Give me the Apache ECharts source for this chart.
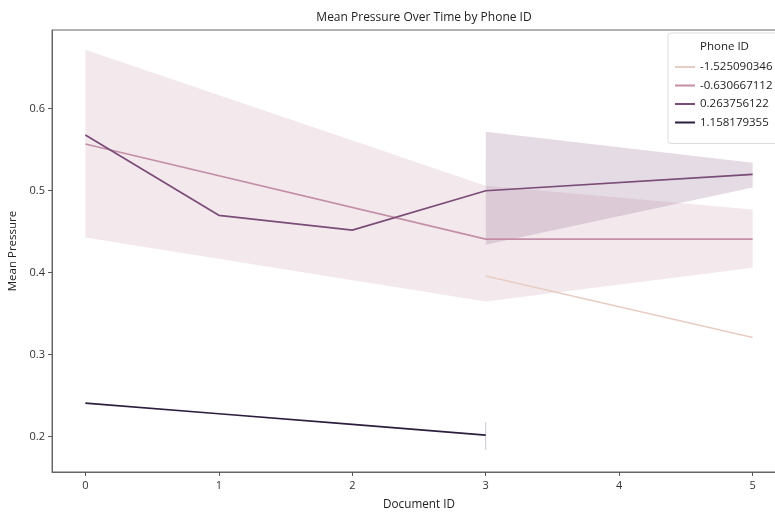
<!DOCTYPE html>
<html>
<head>
<meta charset="utf-8">
<script src="https://cdn.jsdelivr.net/npm/echarts@6/dist/echarts.min.js"></script>
<style>
  html, body { margin: 0; padding: 0; background: #fff; }
  #chart { width: 775px; height: 513px; }
</style>
</head>
<body>
<div id="chart"></div>
<script>
// phone ids (hue levels), lightest to darkest
const phoneIds = ['-1.525090346', '-0.630667112', '0.263756122', '1.158179355'];
const phoneColors = ['#e8cdc4', '#c48fa6', '#7b4c78', '#2d1e3e'];

const xTicks = [0, 1, 2, 3, 4, 5];
const yTicks = [0.2, 0.3, 0.4, 0.5, 0.6];

// mean lines: [document id, mean pressure]
const lineA = [[3, 0.396], [5, 0.321]];
const lineB = [[0, 0.557], [3, 0.441], [5, 0.441]];
const lineC = [[0, 0.568], [1, 0.470], [2, 0.452], [3, 0.500], [5, 0.520]];
const lineD = [[0, 0.241], [1, 0.228], [2, 0.215], [3, 0.202]];

// confidence bands: [document id, low, high]
const bandB = [[0, 0.443, 0.672], [3, 0.365, 0.506], [5, 0.406, 0.477]];
const bandC = [[3, 0.434, 0.572], [5, 0.504, 0.534]];
const errD = [[3, 0.184, 0.218]];

const chart = echarts.init(document.getElementById('chart'));

function bandSeries(band, color) {
    return {
        type: 'custom',
        coordinateSystem: 'cartesian2d',
        silent: true,
        clip: true,
        z: 1,
        data: band,
        encode: { x: 0, y: [1, 2] },
        renderItem(params, api) {
            if (params.dataIndex !== 0) return null;
            const pts = [];
            band.forEach(d => pts.push(api.coord([d[0], d[2]])));
            for (let i = band.length - 1; i >= 0; i--) {
                pts.push(api.coord([band[i][0], band[i][1]]));
            }
            return {
                type: 'polygon',
                shape: { points: pts },
                style: { fill: color, opacity: 0.2 }
            };
        }
    };
}

function errSeries(err, color) {
    return {
        type: 'custom',
        coordinateSystem: 'cartesian2d',
        silent: true,
        z: 1,
        data: err,
        encode: { x: 0, y: [1, 2] },
        renderItem(params, api) {
            const a = api.coord([api.value(0), api.value(1)]);
            const b = api.coord([api.value(0), api.value(2)]);
            return {
                type: 'line',
                shape: { x1: a[0], y1: a[1], x2: b[0], y2: b[1] },
                style: { stroke: color, lineWidth: 1, opacity: 0.25 }
            };
        }
    };
}

function lineSeries(name, data, color) {
    return {
        name: name,
        type: 'line',
        data: data,
        symbol: 'none',
        z: 3,
        lineStyle: { color: color, width: 1.7 },
        itemStyle: { color: color }
    };
}

chart.setOption({
    animation: false,
    title: {
        text: 'Mean Pressure Over Time by Phone ID',
        left: 419,
        top: 7,
        textAlign: 'center',
        textStyle: { fontFamily: 'Open Sans', fontSize: 12, fontWeight: 'normal', color: '#222' }
    },
    grid: {
        left: 52, top: 30, width: 734, bottom: 41,
        outerBoundsMode: 'none',
        containLabel: false,
        show: true, borderColor: '#666', borderWidth: 1
    },
    legend: {
        data: phoneIds,
        orient: 'vertical',
        left: 668,
        top: 33,
        itemWidth: 20,
        itemHeight: 2,
        itemGap: 6.5,
        icon: 'rect',
        textStyle: { fontFamily: 'Open Sans', fontSize: 11.5, color: '#222' },
        backgroundColor: 'rgba(255,255,255,0.85)',
        borderColor: '#ddd',
        borderWidth: 1,
        borderRadius: 3,
        padding: [28, 12, 15, 7]
    },
    graphic: [{
        type: 'text',
        left: 700,
        top: 41,
        z: 100,
        style: { text: 'Phone ID', fontFamily: 'Open Sans', fontSize: 11.5, fill: '#222' }
    }],
    xAxis: {
        type: 'value',
        min: -0.25,
        max: 5.25,
        name: 'Document ID',
        nameLocation: 'middle',
        nameGap: 27,
        nameTextStyle: { fontFamily: 'Open Sans', fontSize: 11.7, color: '#222' },
        splitLine: { show: false },
        axisLine: { show: true, onZero: false, lineStyle: { color: '#666' } },
        axisTick: { show: true, length: 4, customValues: xTicks, lineStyle: { color: '#555' } },
        axisLabel: { customValues: xTicks, fontFamily: 'Open Sans', fontSize: 11, color: '#333', margin: 8 }
    },
    yAxis: {
        type: 'value',
        min: 0.157,
        max: 0.696,
        name: 'Mean Pressure',
        nameLocation: 'middle',
        nameGap: 33,
        nameTextStyle: { fontFamily: 'Open Sans', fontSize: 11.5, color: '#222' },
        splitLine: { show: false },
        axisLine: { show: true, onZero: false, lineStyle: { color: '#666' } },
        axisTick: { show: true, length: 4, customValues: yTicks, lineStyle: { color: '#555' } },
        axisLabel: {
            customValues: yTicks,
            fontFamily: 'Open Sans',
            fontSize: 11,
            color: '#333',
            margin: 7,
            formatter: v => v.toFixed(1)
        }
    },
    series: [
        bandSeries(bandB, phoneColors[1]),
        bandSeries(bandC, phoneColors[2]),
        errSeries(errD, phoneColors[3]),
        lineSeries(phoneIds[0], lineA, phoneColors[0]),
        lineSeries(phoneIds[1], lineB, phoneColors[1]),
        lineSeries(phoneIds[2], lineC, phoneColors[2]),
        lineSeries(phoneIds[3], lineD, phoneColors[3])
    ]
});
</script>
</body>
</html>
